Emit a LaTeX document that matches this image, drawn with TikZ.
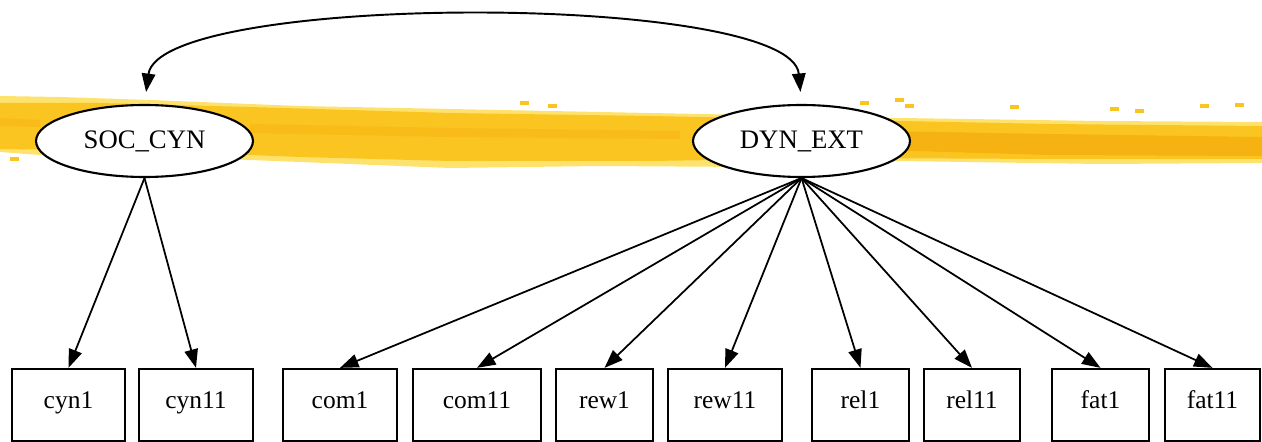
\documentclass[tikz,border=0pt]{standalone}
\usepackage{fontspec}
\setmainfont{Liberation Serif}
\newfontfamily\semfont{Liberation Serif}
\usetikzlibrary{shapes.geometric,arrows.meta}
\definecolor{brushlight}{RGB}{253,226,110}
\definecolor{brushgold}{RGB}{250,197,32}
\definecolor{brushdark}{RGB}{246,178,16}
\begin{document}
\begin{tikzpicture}[x=0.02cm,y=-0.02cm,
    latent/.style={draw,ellipse,fill=white,line width=1.2pt,minimum width=4.34cm,minimum height=1.44cm,inner sep=0pt,font=\semfont\fontsize{15.2}{17}\selectfont},
    manifest/.style={draw,rectangle,fill=white,line width=1.3pt,minimum height=1.44cm,inner sep=0pt,text height=7pt,text depth=3pt,font=\semfont\fontsize{14.5}{16}\selectfont},
    load/.style={line width=1pt,-{Triangle[length=0.37cm,width=0.27cm]}},
    corr/.style={line width=1.1pt,{Triangle[length=0.37cm,width=0.27cm]}-{Triangle[length=0.37cm,width=0.27cm]}}]
\useasboundingbox (0,0) rectangle (1262,442);
\fill[brushlight] (0,96) -- (60,97) -- (150,100) -- (300,106) -- (500,110) -- (700,114) -- (900,118) -- (1100,121) -- (1262,122)
    -- (1262,163) -- (1100,164) -- (900,161) -- (750,167) -- (600,166) -- (450,168) -- (300,162) -- (150,156) -- (40,155) -- (0,152) -- cycle;
\fill[brushgold] (0,103) -- (100,103) -- (250,107) -- (450,113) -- (650,116) -- (850,120) -- (1050,124) -- (1262,126)
    -- (1262,159) -- (1050,159) -- (850,158) -- (650,161) -- (450,161) -- (300,157) -- (150,151) -- (0,149) -- cycle;
\fill[brushdark] (880,131) -- (1050,134) -- (1262,137) -- (1262,156) -- (1050,155) -- (880,150) -- cycle;
\fill[brushdark!50!brushgold] (250,124) -- (450,128) -- (680,131) -- (680,139) -- (450,137) -- (250,133) -- cycle;
\fill[brushdark!50!brushgold] (0,118) -- (40,120) -- (40,127) -- (0,126) -- cycle;
\foreach \x/\y in {205/106,520/101,548/104,860/101,895/98,905/104,1010/105,1110/107,1135/109,1200/104,1235/103,60/160,10/157}
    \fill[brushgold] (\x,\y) rectangle +(9,4);
\node[latent] (soc) at (144.5,141) {SOC\_CYN};
\node[latent] (dyn) at (801.5,141) {DYN\_EXT};
\node[manifest,minimum width=2.26cm] (cyn1) at (68.5,405) {cyn1};
\node[manifest,minimum width=2.28cm] (cyn11) at (196,405) {cyn11};
\node[manifest,minimum width=2.28cm] (com1) at (340,405) {com1};
\node[manifest,minimum width=2.56cm] (com11) at (477,405) {com11};
\node[manifest,minimum width=1.94cm] (rew1) at (604.5,405) {rew1};
\node[manifest,minimum width=2.28cm] (rew11) at (725,405) {rew11};
\node[manifest,minimum width=1.94cm] (rel1) at (860.5,405) {rel1};
\node[manifest,minimum width=1.92cm] (rel11) at (972,405) {rel11};
\node[manifest,minimum width=1.94cm] (fat1) at (1100.5,405) {fat1};
\node[manifest,minimum width=1.9cm] (fat11) at (1212.5,405) {fat11};
\draw[load] (soc.south) -- (cyn1.north);
\draw[load] (soc.south) -- (cyn11.north);
\foreach \v in {com1,com11,rew1,rew11,rel1,rel11,fat1,fat11}
    \draw[load] (dyn.south) -- (\v.north);
\draw[corr,shorten <=2.4mm,shorten >=2.4mm] (soc.north) .. controls +(15,-112) and +(-10,-112) .. (dyn.north);
\end{tikzpicture}
\end{document}
